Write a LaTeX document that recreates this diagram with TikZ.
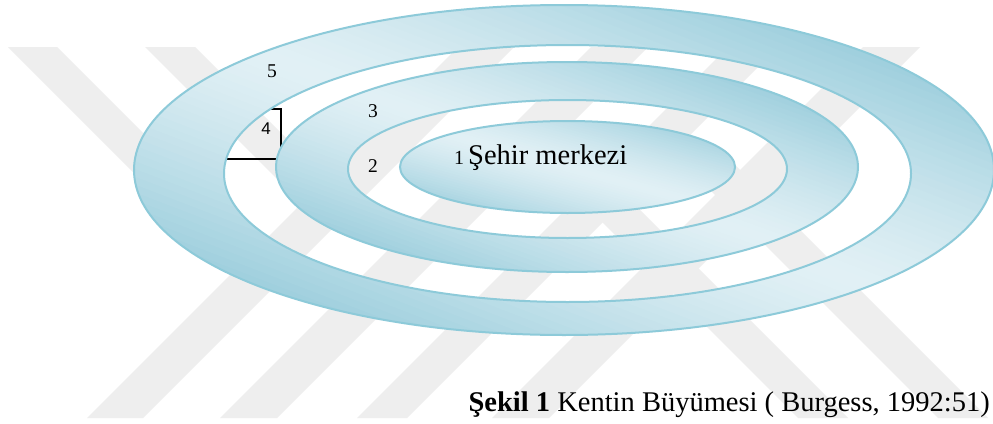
\documentclass[tikz,border=0pt]{standalone}
\usepackage{fontspec}
\setmainfont{Liberation Serif}
\newfontfamily\arialfont{Liberation Sans}
\definecolor{ringline}{HTML}{8DCAD9}
\definecolor{ringdark}{HTML}{9ECFDD}
\definecolor{ringlight}{HTML}{E1F0F5}
\definecolor{wmgray}{HTML}{EEEEEE}
% strips of a reflected linear gradient: centre x, centre y, |vx|, |vy| (light axis direction, canvas (a,-b)), half range S, half length L
\newcommand\ringgrad[6]{%
  \begin{scope}[shift={(#1,#2)}, x={(#3pt,-#4pt)}, y={(#4pt,#3pt)}]
    \pgfmathsetmacro\stripw{2*#5/60}
    \foreach \i in {0,...,59} {
      \pgfmathsetmacro\sa{-#5+\i*\stripw}
      \pgfmathsetmacro\sb{\sa+\stripw+0.8}
      \pgfmathsetmacro\tt{abs(\sa+0.5*\stripw)/#5}
      \pgfmathtruncatemacro\p{100*(\tt)^1.35}
      \fill[ringdark!\p!ringlight] (-#6,\sa) -- (#6,\sa) -- (#6,\sb) -- (-#6,\sb) -- cycle;
    }
  \end{scope}}
\begin{document}
\begin{tikzpicture}[x=1pt,y=-1pt,
  wm/.style={fill=wmgray, draw=none},
  ringedge/.style={draw=ringline, line width=2pt},
  lbl/.style={font=\fontsize{19.5}{22}\selectfont, inner sep=0pt, anchor=base},
  bracketline/.style={draw=black, line width=1.6pt}
]
\useasboundingbox (0,0) rectangle (993,423);
\fill[white] (0,0) rectangle (993,423);
% watermark bands "\"
\fill[wm] (8,47) -- (57,47) -- (280,270) -- (231,270) -- cycle;
\fill[wm] (145,47) -- (195,47) -- (358,210) -- (308,210) -- cycle;
\fill[wm] (580,200) -- (630,200) -- (848,418) -- (798,418) -- cycle;
\fill[wm] (670,150) -- (720,150) -- (988,418) -- (938,418) -- cycle;
% watermark bands "/"
\fill[wm] (458,47) -- (514,47) -- (143,418) -- (87,418) -- cycle;
\fill[wm] (591,47) -- (648,47) -- (277,418) -- (220,418) -- cycle;
\fill[wm] (728,47) -- (778,47) -- (407,418) -- (357,418) -- cycle;
\fill[wm] (863,47) -- (920,47) -- (549,418) -- (492,418) -- cycle;
% bracket of label 4
\coordinate (b1) at (263,109);
\coordinate (b2) at (281,109);
\coordinate (b3) at (281,159);
\coordinate (b4) at (224,159);
\draw[bracketline] (b1) -- (b2) -- (b3) -- (b4);
% ring 5
\begin{scope}[even odd rule]
  \clip (564,170) ellipse [x radius=430, y radius=165]
    (567.5,173.5) ellipse [x radius=343.5, y radius=128.5];
  \ringgrad{564}{170}{0.934}{0.358}{218}{480}
\end{scope}
\draw[ringedge] (564,170) ellipse [x radius=430, y radius=165];
\draw[ringedge] (567.5,173.5) ellipse [x radius=343.5, y radius=128.5];
% ring 3
\begin{scope}[even odd rule]
  \clip (567,167) ellipse [x radius=291, y radius=105]
    (567.5,169) ellipse [x radius=219.5, y radius=69];
  \ringgrad{567}{167}{0.940}{0.339}{143}{330}
\end{scope}
\draw[ringedge] (567,167) ellipse [x radius=291, y radius=105];
\draw[ringedge] (567.5,169) ellipse [x radius=219.5, y radius=69];
% centre
\begin{scope}
  \clip (567.5,167) ellipse [x radius=167.5, y radius=46];
  \ringgrad{567.5}{167}{0.965}{0.265}{74}{200}
\end{scope}
\draw[ringedge] (567.5,167) ellipse [x radius=167.5, y radius=46];
% labels
\node[lbl] (l5) at (272,77) {5};
\node[lbl] (l3) at (373,117) {3};
\node[lbl] (l2) at (373,172) {2};
\node[lbl, font=\arialfont\fontsize{17}{20}\selectfont] (l4) at (266,134) {4};
\node[anchor=base west, inner sep=0pt, font=\fontsize{20}{24}\selectfont] (one) at (454,164) {1};
\node[anchor=base west, inner sep=0pt, font=\fontsize{28.5}{34}\selectfont] (cbd) at (468,164) {Şehir merkezi};
\node[anchor=base east, inner sep=0pt, font=\fontsize{28.5}{34}\selectfont] (cap) at (990,411) {\textbf{Şekil 1} Kentin Büyümesi ( Burgess, 1992:51)};
\end{tikzpicture}
\end{document}
